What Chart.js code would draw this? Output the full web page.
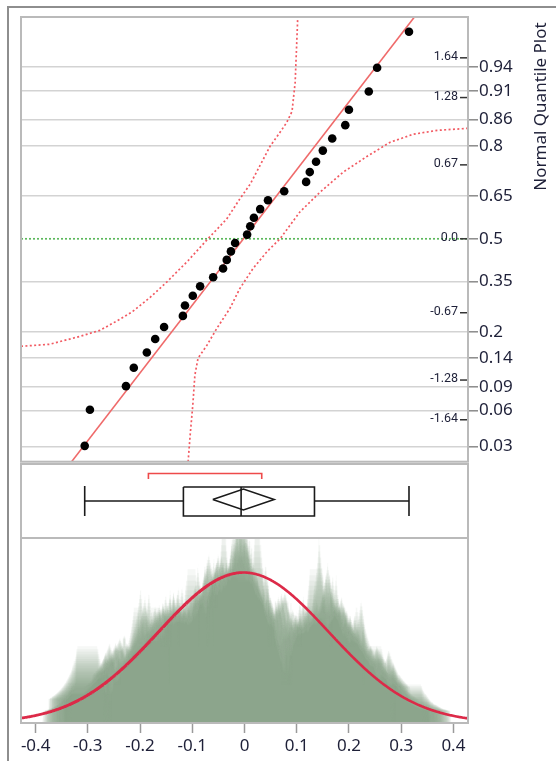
<!DOCTYPE html>
<html>
<head>
<meta charset="utf-8">
<script src="https://cdn.jsdelivr.net/npm/chart.js@4.4.1/dist/chart.umd.min.js"></script>
<style>
  html, body { margin: 0; padding: 0; background: #fff; }
  #wrap { position: relative; width: 556px; height: 761px; overflow: hidden; background: #fff; }
  #frame { position: absolute; left: 7px; top: 6px; width: 600px; height: 800px;
           border-left: 2px solid #8e8e8e; border-top: 2px solid #8e8e8e; }
  canvas { position: absolute; left: 0; }
</style>
</head>
<body>
<div id="wrap">
  <div id="frame"></div>
  <canvas id="qq" width="556" height="466" style="top:0px"></canvas>
  <canvas id="box" width="556" height="78" style="top:462px"></canvas>
  <canvas id="dens" width="556" height="225" style="top:536px"></canvas>
</div>
<script>
// ---- observations ----
const values = [
  -0.306, -0.296, -0.227, -0.212, -0.187, -0.171, -0.154, -0.118,
  -0.114, -0.099, -0.085, -0.060, -0.041, -0.034, -0.026, -0.018,
   0.005,  0.011,  0.018,  0.030,  0.045,  0.076,  0.118,  0.125,
   0.137,  0.150,  0.168,  0.193,  0.200,  0.238,  0.254,  0.315
];

// ---- axis ticks ----
const probTicks  = [0.03, 0.06, 0.09, 0.14, 0.2, 0.35, 0.5, 0.65, 0.8, 0.86, 0.91, 0.94];
const probLabels = ['0.03', '0.06', '0.09', '0.14', '0.2', '0.35', '0.5', '0.65', '0.8', '0.86', '0.91', '0.94'];
const zTicks     = [-1.64, -1.28, -0.67, 0, 0.67, 1.28, 1.64];
const zLabels    = ['-1.64', '-1.28', '-0.67', '0.0', '0.67', '1.28', '1.64'];
const xTicks     = [-0.4, -0.3, -0.2, -0.1, 0, 0.1, 0.2, 0.3, 0.4];
const xTickLabels = ['-0.4', '-0.3', '-0.2', '-0.1', '0', '0.1', '0.2', '0.3', '0.4'];

// ---- Lilliefors confidence bounds (value, normal quantile) ----
const upperBandX = [-0.428, -0.373, -0.315, -0.277, -0.239, -0.214, -0.181, -0.148, -0.108, -0.070,
                    -0.034, -0.009, 0.011, 0.030, 0.049, 0.068, 0.081, 0.091, 0.097, 0.102];
const upperBandZ = [-0.974, -0.956, -0.884, -0.830, -0.730, -0.658, -0.532, -0.388, -0.198, 0.000,
                     0.180, 0.361, 0.496, 0.667, 0.839, 0.965, 1.055, 1.154, 1.416, 2.011];
const lowerBandX = [-0.108, -0.104, -0.099, -0.095, -0.089, -0.072, -0.053, -0.028, -0.009, 0.016,
                     0.043, 0.068, 0.106, 0.145, 0.189, 0.235, 0.279, 0.323, 0.369, 0.428];
const lowerBandZ = [-2.020, -1.776, -1.506, -1.235, -1.082, -0.965, -0.812, -0.631, -0.451, -0.271,
                    -0.117, 0.000, 0.243, 0.424, 0.604, 0.748, 0.875, 0.947, 0.983, 1.001];

// ---- shortest half ----
const shortestHalf = [-0.184, 0.033];

// ---- scale extents ----
const X_MIN = -0.428, X_MAX = 0.428;
const Z_MIN = -2.02, Z_MAX = 2.01;
const DENS_MAX = 3.01;
const T_975_31 = 2.0395;

// inverse standard normal CDF (Acklam)
function qnorm(p) {
  const a = [-3.969683028665376e+01, 2.209460984245205e+02, -2.759285104469687e+02, 1.383577518672690e+02, -3.066479806614716e+01, 2.506628277459239e+00];
  const b = [-5.447609879822406e+01, 1.615858368580409e+02, -1.556989798598866e+02, 6.680131188771972e+01, -1.328068155288572e+01];
  const c = [-7.784894002430293e-03, -3.223964580411365e-01, -2.400758277161838e+00, -2.549732539343734e+00, 4.374664141464968e+00, 2.938163982698783e+00];
  const d = [7.784695709041462e-03, 3.224671290700398e-01, 2.445134137142996e+00, 3.754408661907416e+00];
  const pl = 0.02425, ph = 1 - pl;
  let q, r;
  if (p < pl) {
    q = Math.sqrt(-2 * Math.log(p));
    return (((((c[0]*q+c[1])*q+c[2])*q+c[3])*q+c[4])*q+c[5]) / ((((d[0]*q+d[1])*q+d[2])*q+d[3])*q+1);
  }
  if (p <= ph) {
    q = p - 0.5; r = q * q;
    return (((((a[0]*r+a[1])*r+a[2])*r+a[3])*r+a[4])*r+a[5])*q / (((((b[0]*r+b[1])*r+b[2])*r+b[3])*r+b[4])*r+1);
  }
  q = Math.sqrt(-2 * Math.log(1 - p));
  return -(((((c[0]*q+c[1])*q+c[2])*q+c[3])*q+c[4])*q+c[5]) / ((((d[0]*q+d[1])*q+d[2])*q+d[3])*q+1);
}

// ---- summary statistics ----
const sorted = values.slice().sort((a, b) => a - b);
const n = sorted.length;
const mean = sorted.reduce((s, v) => s + v, 0) / n;
const sd = Math.sqrt(sorted.reduce((s, v) => s + (v - mean) * (v - mean), 0) / (n - 1));
function quantile(p) {
  const pos = p * (n + 1), k = Math.floor(pos), f = pos - k;
  if (k < 1) return sorted[0];
  if (k >= n) return sorted[n - 1];
  return sorted[k - 1] + f * (sorted[k] - sorted[k - 1]);
}
const q1 = quantile(0.25), med = quantile(0.5), q3 = quantile(0.75);
const vMin = sorted[0], vMax = sorted[n - 1];
const ciHalf = T_975_31 * sd / Math.sqrt(n);

const TEXT = '#1e2038';
const FONT = "'Noto Sans', 'Open Sans', sans-serif";

Chart.defaults.animation = false;
Chart.defaults.responsive = false;
Chart.defaults.devicePixelRatio = 1;
Chart.defaults.plugins.legend.display = false;
Chart.defaults.plugins.tooltip.enabled = false;
Chart.defaults.elements.point.radius = 0;
Chart.defaults.elements.line.tension = 0;

// outline of each plot panel
const panelFrame = {
  id: 'panelFrame',
  afterDraw(chart) {
    const { ctx, chartArea: a } = chart;
    ctx.save();
    ctx.strokeStyle = '#bababa';
    ctx.lineWidth = 2;
    ctx.strokeRect(a.left, a.top, a.right - a.left, a.bottom - a.top);
    ctx.restore();
  }
};

// normal-quantile ticks drawn inside the plot, plus the side title
const quantileDecor = {
  id: 'quantileDecor',
  afterDraw(chart) {
    const { ctx, chartArea: a } = chart;
    const ys = chart.scales.y;
    ctx.save();
    ctx.fillStyle = TEXT;
    ctx.strokeStyle = '#333';
    ctx.lineWidth = 1.5;
    ctx.font = "12.5px 'Roboto', 'Noto Sans', sans-serif";
    ctx.textAlign = 'right';
    ctx.textBaseline = 'middle';
    zTicks.forEach((z, i) => {
      const y = ys.getPixelForValue(z);
      ctx.beginPath();
      ctx.moveTo(a.right - 8, y);
      ctx.lineTo(a.right - 1, y);
      ctx.stroke();
      ctx.fillText(zLabels[i], a.right - 10, y - 1);
    });
    ctx.translate(541.5, 106.5);
    ctx.rotate(-Math.PI / 2);
    ctx.textAlign = 'center';
    ctx.font = "17px " + FONT;
    ctx.fillText('Normal Quantile Plot', 0, 0);
    ctx.restore();
  }
};

// ---------- normal quantile plot ----------
const qqPoints = sorted.map((v, i) => ({ x: v, y: qnorm((i + 1) / (n + 1)) }));
const zeroIdx = probTicks.indexOf(0.5);

new Chart(document.getElementById('qq'), {
  type: 'line',
  data: {
    datasets: [
      { data: qqPoints, showLine: false, pointRadius: 4.3, pointBackgroundColor: '#000',
        pointBorderColor: '#000', pointBorderWidth: 0 },
      { data: [{ x: mean + sd * Z_MIN, y: Z_MIN }, { x: mean + sd * Z_MAX, y: Z_MAX }],
        borderColor: '#ef6a6a', borderWidth: 1.6 },
      { data: upperBandX.map((x, i) => ({ x, y: upperBandZ[i] })),
        borderColor: '#f25a62', borderWidth: 1.7, borderDash: [2, 2.4] },
      { data: lowerBandX.map((x, i) => ({ x, y: lowerBandZ[i] })),
        borderColor: '#f25a62', borderWidth: 1.7, borderDash: [2, 2.4] },
      { data: [{ x: X_MIN, y: 0 }, { x: X_MAX, y: 0 }],
        borderColor: '#5cb85c', borderWidth: 1.7, borderDash: [2, 2] }
    ]
  },
  options: {
    layout: { padding: { left: 21, top: 17, right: 0, bottom: 2 } },
    scales: {
      x: { type: 'linear', min: X_MIN, max: X_MAX, display: false },
      y: {
        type: 'linear', position: 'right', min: Z_MIN, max: Z_MAX,
        afterBuildTicks(scale) { scale.ticks = probTicks.map(p => ({ value: qnorm(p) })); },
        afterFit(scale) { scale.width = 88; scale.paddingTop = 0; scale.paddingBottom = 0; },
        border: { display: false },
        grid: {
          color: ctx => (ctx.index === zeroIdx ? 'rgba(0,0,0,0)' : '#d3d3d3'),
          lineWidth: 1.6, tickLength: 10, tickColor: '#8a8a8a', tickWidth: 1.5
        },
        ticks: {
          autoSkip: false, padding: 1, color: TEXT,
          font: { family: FONT, size: 17 },
          callback: (v, i) => probLabels[i]
        }
      }
    }
  },
  plugins: [panelFrame, quantileDecor]
});

// ---------- outlier box plot ----------
// vertical positions are in pixels from the top of the panel
const BOX_TOP = 23, BOX_BOT = 52, BOX_MID = 37;
const DIA_TOP = 25, DIA_BOT = 46, DIA_MID = 35.5;
const BR_Y = 9.5, BR_END = 15;
const seg = pts => pts.map(([x, y]) => ({ x, y }));
const blackLine = { borderColor: '#1a1a1a', borderWidth: 1.6 };

new Chart(document.getElementById('box'), {
  type: 'line',
  data: {
    datasets: [
      Object.assign({ data: seg([[vMin, BOX_MID], [q1, BOX_MID]]) }, blackLine),
      Object.assign({ data: seg([[q3, BOX_MID], [vMax, BOX_MID]]) }, blackLine),
      Object.assign({ data: seg([[vMin, BOX_TOP - 1], [vMin, BOX_BOT]]) }, blackLine),
      Object.assign({ data: seg([[vMax, BOX_TOP - 1], [vMax, BOX_BOT]]) }, blackLine),
      Object.assign({ data: seg([[q1, BOX_TOP], [q3, BOX_TOP], [q3, BOX_BOT], [q1, BOX_BOT], [q1, BOX_TOP]]) }, blackLine),
      Object.assign({ data: seg([[med, BOX_TOP], [med, BOX_BOT]]) }, blackLine),
      Object.assign({ data: seg([[mean - ciHalf, DIA_MID], [mean, DIA_TOP], [mean + ciHalf, DIA_MID],
                                 [mean, DIA_BOT], [mean - ciHalf, DIA_MID]]) }, blackLine),
      { data: seg([[shortestHalf[0], BR_END], [shortestHalf[0], BR_Y], [shortestHalf[1], BR_Y], [shortestHalf[1], BR_END]]),
        borderColor: '#ee4a4a', borderWidth: 1.6 }
    ]
  },
  options: {
    layout: { padding: { left: 21, top: 2, right: 88, bottom: 2 } },
    scales: {
      x: { type: 'linear', min: X_MIN, max: X_MAX, display: false },
      y: { type: 'linear', min: 0, max: 74, reverse: true, display: false }
    }
  },
  plugins: [panelFrame]
});

// ---------- shadowgram with fitted normal ----------
// overlaid moving-window histograms of increasing bin width
const GRID_N = 856;
const gridX = [];
for (let i = 0; i <= GRID_N; i++) gridX.push(X_MIN + i * (X_MAX - X_MIN) / GRID_N);

const LAYERS = 56, H_MIN = 0.05, H_MAX = 0.16;
const shadowSets = [];
for (let k = 0; k < LAYERS; k++) {
  const h = H_MIN + (H_MAX - H_MIN) * k / (LAYERS - 1);
  const pts = gridX.map(x => {
    let c = 0;
    for (const v of sorted) if (Math.abs(v - x) <= h / 2) c++;
    return { x, y: c / (n * h) };
  });
  shadowSets.push({ data: pts, borderWidth: 0, borderColor: 'rgba(0,0,0,0)',
                    backgroundColor: 'rgba(140,164,140,0.08)', fill: 'origin' });
}
const normalCurve = gridX.map(x => ({
  x, y: Math.exp(-0.5 * ((x - mean) / sd) ** 2) / (sd * Math.sqrt(2 * Math.PI))
}));

new Chart(document.getElementById('dens'), {
  type: 'line',
  data: {
    datasets: [{ data: normalCurve, borderColor: '#dc2a48', borderWidth: 2.6 }].concat(shadowSets)
  },
  options: {
    layout: { padding: { left: 21, top: 2, right: 88, bottom: 0 } },
    scales: {
      x: {
        type: 'linear', position: 'bottom', min: X_MIN, max: X_MAX,
        afterBuildTicks(scale) { scale.ticks = xTicks.map(v => ({ value: v })); },
        afterFit(scale) { scale.height = 38; scale.paddingLeft = 0; scale.paddingRight = 0; },
        border: { display: false },
        grid: { drawOnChartArea: false, tickLength: 10, tickColor: '#9a9a9a', tickWidth: 1.5 },
        ticks: { autoSkip: false, maxRotation: 0, padding: 3, color: TEXT,
                 font: { family: FONT, size: 17 }, callback: (v, i) => xTickLabels[i] }
      },
      y: { type: 'linear', min: 0, max: DENS_MAX, display: false }
    }
  },
  plugins: [panelFrame]
});
</script>
</body>
</html>
